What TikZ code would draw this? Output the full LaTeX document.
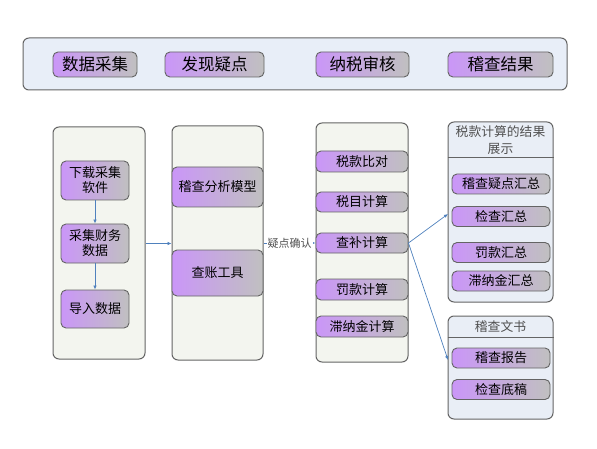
\documentclass[tikz,border=0pt]{standalone}
\usepackage{fontspec}
\setmainfont{Noto Sans CJK SC}
\usetikzlibrary{arrows.meta}
\definecolor{bannerfill}{RGB}{232,238,248}
\definecolor{colfill}{RGB}{243,245,239}
\definecolor{bluefill}{RGB}{233,238,246}
\definecolor{edge}{RGB}{100,100,100}
\definecolor{purp}{RGB}{202,150,248}
\definecolor{grayr}{RGB}{192,192,192}
\definecolor{conncol}{RGB}{79,129,189}
\definecolor{hdrtext}{RGB}{80,80,80}
\tikzset{
  panel/.style={draw=edge, line width=1pt, rounded corners=6pt, fill=colfill, inner sep=0pt},
  bpanel/.style={draw=edge, line width=1pt, rounded corners=6pt, fill=bluefill, inner sep=0pt},
  btn/.style={draw=edge, line width=0.9pt, rounded corners=5pt, left color=purp, right color=grayr, inner sep=0pt, align=center, font=\fontsize{13}{15}\selectfont},
  topbtn/.style={btn, font=\fontsize{16.5}{18}\selectfont},
  conn/.style={draw=conncol, line width=0.7pt, -{Latex[length=4pt,width=3.5pt]}},
}
\begin{document}
\begin{tikzpicture}[x=1pt,y=-1pt]
\useasboundingbox (0,0) rectangle (597,449);
% banner
\node[draw=edge, line width=1pt, rounded corners=6pt, fill=bannerfill, minimum width=544pt, minimum height=52pt] (banner) at (295,64) {};
\node[topbtn, minimum width=84pt, minimum height=25pt] (t1) at (95,64.5) {数据采集};
\node[topbtn, minimum width=99pt, minimum height=25pt] (t2) at (214.5,64.5) {发现疑点};
\node[topbtn, minimum width=93pt, minimum height=25pt] (t3) at (362.5,64.5) {纳税审核};
\node[topbtn, minimum width=105pt, minimum height=25pt] (t4) at (500.5,64.5) {稽查结果};
% column 1
\node[panel, minimum width=92pt, minimum height=232pt] (c1) at (99,243) {};
\node[btn, minimum width=68pt, minimum height=39pt] (a1) at (95,180.5) {下载采集\\软件};
\node[btn, minimum width=68pt, minimum height=39pt] (a2) at (95,243.5) {采集财务\\数据};
\node[btn, minimum width=68pt, minimum height=38pt] (a3) at (95,309) {导入数据};
% column 2
\node[panel, minimum width=91pt, minimum height=234pt] (c2) at (217.5,243) {};
\node[btn, minimum width=91pt, minimum height=40pt] (b1) at (217.5,187) {稽查分析模型};
\node[btn, minimum width=91pt, minimum height=46pt] (b2) at (217.5,273) {查账工具};
% column 3
\node[panel, minimum width=92pt, minimum height=239pt] (c3) at (362,242.5) {};
\node[btn, minimum width=92pt, minimum height=21pt] (d1) at (362,161.5) {税款比对};
\node[btn, minimum width=92pt, minimum height=20pt] (d2) at (362,202) {税目计算};
\node[btn, minimum width=92pt, minimum height=20pt] (d3) at (362,243) {查补计算};
\node[btn, minimum width=92pt, minimum height=21pt] (d4) at (362,289.5) {罚款计算};
\node[btn, minimum width=92pt, minimum height=21pt] (d5) at (362,326.5) {滞纳金计算};
% column 4a
\node[bpanel, minimum width=105pt, minimum height=180pt] (e) at (500.5,212) {};
\coordinate (ediv) at (500.5,158);
\draw[edge, line width=1pt] (e.west |- ediv) -- (e.east |- ediv);
\node[text=hdrtext, align=center, font=\fontsize{12.8}{17}\selectfont, inner sep=0pt] (eh) at (500.5,140) {税款计算的结果\\展示};
\node[btn, minimum width=98pt, minimum height=20pt] (e1) at (501,184) {稽查疑点汇总};
\node[btn, minimum width=98pt, minimum height=20pt] (e2) at (501,216.5) {检查汇总};
\node[btn, minimum width=98pt, minimum height=20pt] (e3) at (501,252.5) {罚款汇总};
\node[btn, minimum width=98pt, minimum height=20pt] (e4) at (501,281) {滞纳金汇总};
% column 4b
\node[bpanel, minimum width=105pt, minimum height=103pt] (f) at (500.5,367.5) {};
\coordinate (fdiv) at (500.5,337);
\draw[edge, line width=1pt] (f.west |- fdiv) -- (f.east |- fdiv);
\node[text=hdrtext, font=\fontsize{12.8}{15}\selectfont, inner sep=0pt] (fh) at (500.5,326.5) {稽查文书};
\node[btn, minimum width=98pt, minimum height=20pt] (f1) at (501,358) {稽查报告};
\node[btn, minimum width=98pt, minimum height=20pt] (f2) at (501,389.5) {检查底稿};
% connectors
\draw[conn] (a1) -- (a2);
\draw[conn] (a2) -- (a3);
\draw[conn] (c1.east |- a2) -- (c2.west |- a2);
\draw[conn] (c2.east |- d3) -- node[fill=white, text=hdrtext, inner sep=1pt, font=\fontsize{11}{13}\selectfont] (lbl) {疑点确认} (d3.west);
\coordinate (p1) at (448,214);
\coordinate (p2) at (448,360);
\draw[conn] (d3.east) -- (p1);
\draw[conn] (d3.east) -- (p2);
\end{tikzpicture}
\end{document}
